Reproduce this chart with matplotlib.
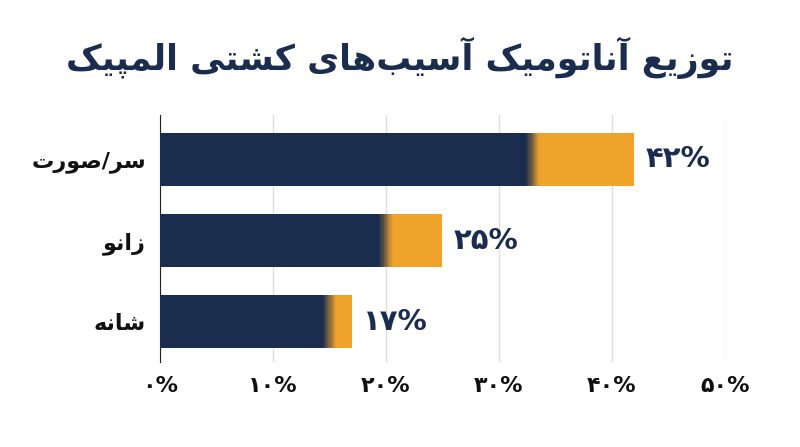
import matplotlib
matplotlib.use("Agg")
import matplotlib.pyplot as plt
import numpy as np

categories = ["سر/صورت", "زانو", "شانه"]
totals = [42, 25, 17]
navy_part = [33, 20, 15]
ticks = [0, 10, 20, 30, 40, 50]
title = "توزیع آناتومیک آسیب‌های کشتی المپیک"

FORMS = {
 'ا':('\uFE8D','\uFE8E',None,None),'آ':('\uFE81','\uFE82',None,None),
 'ر':('\uFEAD','\uFEAE',None,None),'ز':('\uFEAF','\uFEB0',None,None),
 'و':('\uFEED','\uFEEE',None,None),
 'ب':('\uFE8F','\uFE90','\uFE91','\uFE92'),'پ':('\uFB56','\uFB57','\uFB58','\uFB59'),
 'ت':('\uFE95','\uFE96','\uFE97','\uFE98'),'س':('\uFEB1','\uFEB2','\uFEB3','\uFEB4'),
 'ش':('\uFEB5','\uFEB6','\uFEB7','\uFEB8'),'ص':('\uFEB9','\uFEBA','\uFEBB','\uFEBC'),
 'ع':('\uFEC9','\uFECA','\uFECB','\uFECC'),'ک':('\uFB8E','\uFB8F','\uFB90','\uFB91'),
 'ل':('\uFEDD','\uFEDE','\uFEDF','\uFEE0'),'م':('\uFEE1','\uFEE2','\uFEE3','\uFEE4'),
 'ن':('\uFEE5','\uFEE6','\uFEE7','\uFEE8'),'ه':('\uFEE9','\uFEEA','\uFEEB','\uFEEC'),
 'ی':('\uFBFC','\uFBFD','\uFBFE','\uFBFF'),
}
def dual(c): return c in FORMS and FORMS[c][2] is not None
def shape(s):
    out = []
    for i, c in enumerate(s):
        if c == '\u200c':
            continue
        if c not in FORMS:
            out.append(c); continue
        prev = s[i-1] if i > 0 else ''
        nxt = s[i+1] if i+1 < len(s) else ''
        jp = dual(prev)
        jn = dual(c) and nxt in FORMS
        iso, fin, ini, med = FORMS[c]
        if jp and jn: g = med
        elif jp: g = fin
        elif jn: g = ini
        else: g = iso
        out.append(g)
    return ''.join(reversed(out))

def fa_num(n):
    return ''.join('۰۱۲۳۴۵۶۷۸۹'[int(d)] for d in str(n)) + '%'

plt.rcParams['font.family'] = ['DejaVu Sans']
fig = plt.figure(figsize=(8, 4.47), dpi=100)
ax = fig.add_axes([0.2, 0.19, 0.706, 0.553])
navy = np.array([0x1b, 0x2d, 0x4f]) / 255
orange = np.array([0xef, 0xa3, 0x2b]) / 255
y = np.arange(len(categories))
h = 0.65
for i in range(len(categories)):
    ax.barh(y[i], totals[i], height=h, color=orange, linewidth=0, zorder=3)
    ax.barh(y[i], navy_part[i] - 0.6, height=h, color=navy, linewidth=0, zorder=4)
    n = 12
    for k in range(n):
        t = (k + 0.5) / n
        ax.barh(y[i], 1.4 / n, left=navy_part[i] - 0.6 + 1.2 * k / n, height=h,
                color=navy * (1 - t) + orange * t, linewidth=0, zorder=4)
    ax.text(totals[i] + 1, y[i], fa_num(totals[i]), va='center', ha='left',
            fontsize=21, fontweight='bold', color='#1b2d4f')
ax.set_ylim(2.5, -0.55)
ax.set_xlim(0, 50)
ax.set_yticks(y)
ax.set_yticklabels([shape(c) for c in categories], fontsize=16, fontweight='bold', color='#111111')
ax.set_xticks(ticks)
ax.set_xticklabels([fa_num(t) for t in ticks], fontsize=16, fontweight='bold', color='#111111')
ax.tick_params(length=0, pad=10)
for s in ['top', 'right', 'bottom']:
    ax.spines[s].set_visible(False)
ax.spines['left'].set_color('#222222')
ax.grid(axis='x', color='#dddddd', linewidth=1, zorder=0)
fig.text(0.5, 0.87, shape(title), ha='center', va='center', fontsize=25,
         fontweight='bold', color='#1b2d4f')
fig.savefig('out.png', dpi=100, facecolor='white')
